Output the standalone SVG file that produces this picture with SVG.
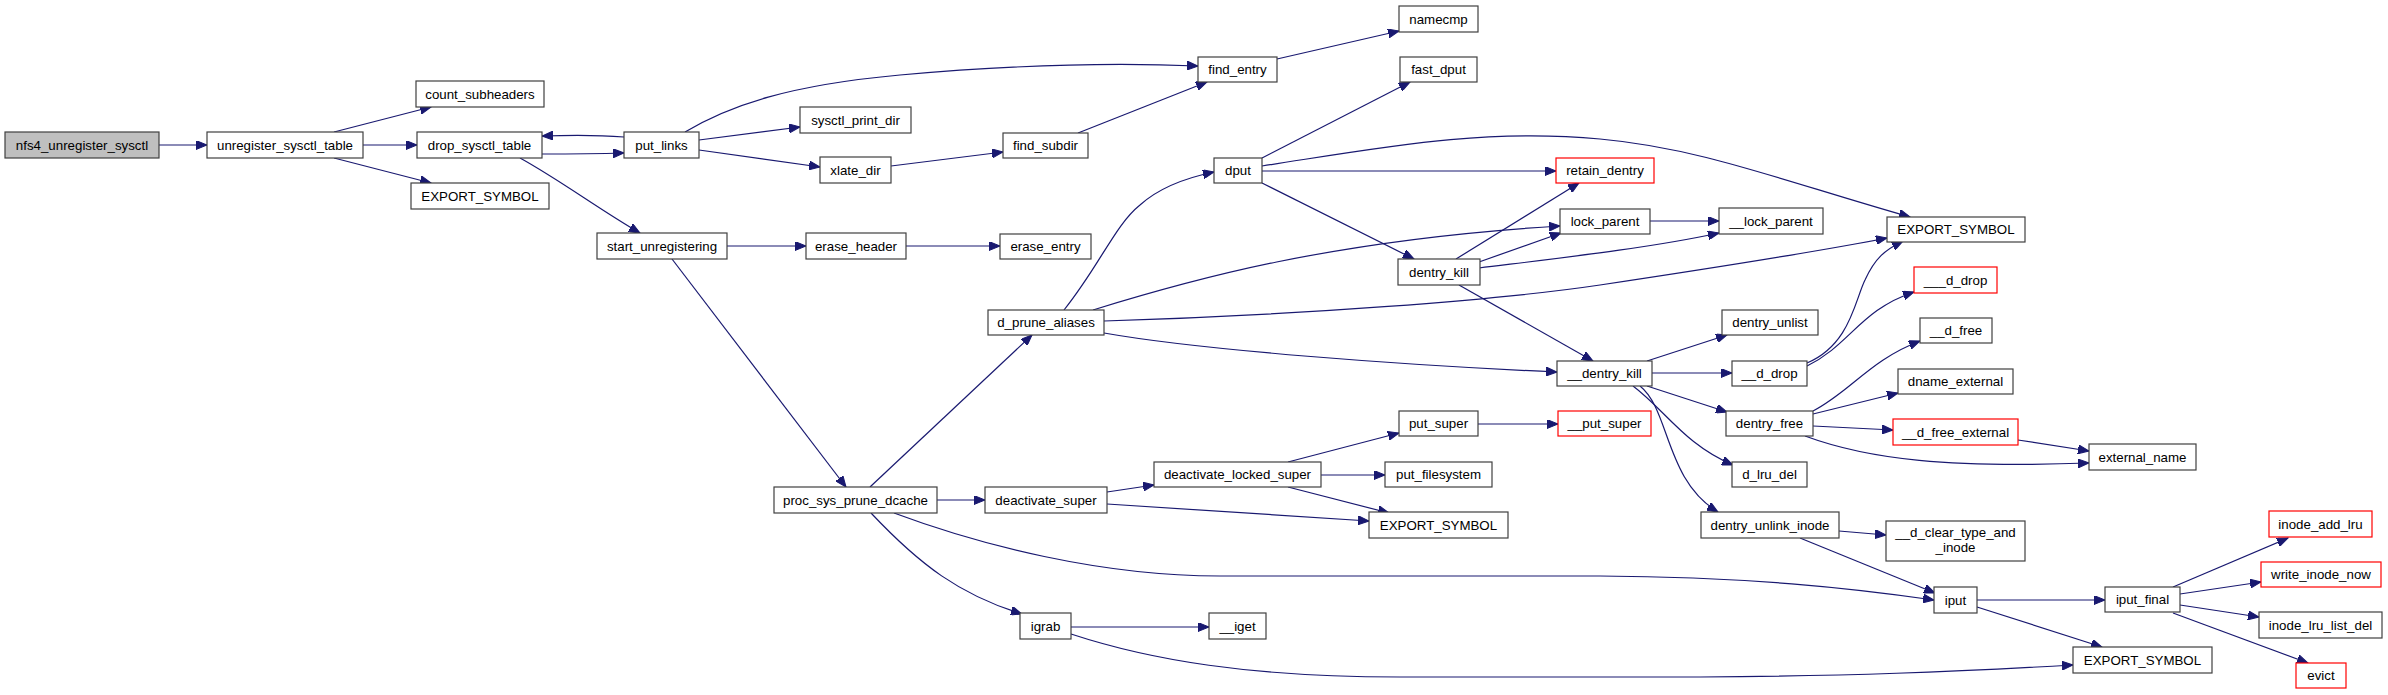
<svg xmlns="http://www.w3.org/2000/svg" width="2388" height="695" viewBox="0 0 2388 695">
<style>
.n rect{fill:#fff;stroke:#404040;stroke-width:1.2}
.n.root rect{fill:#bfbfbf}
.n.red rect{stroke:#ff0000}
.n text{font-family:"Liberation Sans",Arial,sans-serif;font-size:13.3px;fill:#000;text-anchor:middle}
#edges path{fill:none;stroke:#191970;stroke-width:1.2;marker-end:url(#ah)}
</style>
<defs>
<marker id="ah" markerUnits="userSpaceOnUse" markerWidth="12" markerHeight="9" refX="11" refY="4.5" orient="auto">
<path d="M0,0 L11,4.5 L0,9 z" fill="#191970" stroke="#191970" stroke-width="1"/>
</marker>
</defs>
<rect width="2388" height="695" fill="#fff"/>
<g id="edges">
<path d="M159,145 L207,145"/>
<path d="M334,132 L431,107"/>
<path d="M363,145 L417,145"/>
<path d="M334,158 L431,183"/>
<path d="M542,154 C570,154 590,154 624,153"/>
<path d="M624,137 C600,135 570,135 542,136"/>
<path d="M520,158 C560,180 600,210 640,233"/>
<path d="M685,132 C730,105 790,85 900,75 C1000,66 1100,62 1198,66"/>
<path d="M699,140 L800,127"/>
<path d="M699,150 L820,167"/>
<path d="M891,166 L1003,152"/>
<path d="M1078,133 L1207,82"/>
<path d="M1277,59 L1399,31"/>
<path d="M727,246 L806,246"/>
<path d="M906,246 L1000,246"/>
<path d="M672,259 L846,487"/>
<path d="M870,487 L1032,335"/>
<path d="M937,500 L985,500"/>
<path d="M894,513 C980,545 1100,576 1220,576 L1600,576 C1750,577 1850,588 1934,600"/>
<path d="M871,513 C920,565 960,595 1022,614"/>
<path d="M1064,310 C1100,265 1115,225 1140,205 C1160,187 1185,178 1214,172"/>
<path d="M1093,310 C1190,280 1330,240 1560,226"/>
<path d="M1104,321 C1300,315 1500,300 1600,285 C1700,270 1800,255 1887,238"/>
<path d="M1104,333 C1200,350 1400,365 1557,372"/>
<path d="M1262,158 L1410,82"/>
<path d="M1262,171 L1556,171"/>
<path d="M1262,166 C1380,148 1480,128 1600,139 C1700,148 1780,180 1910,217"/>
<path d="M1262,183 L1414,259"/>
<path d="M1456,259 L1579,183"/>
<path d="M1479,262 L1561,233"/>
<path d="M1479,268 C1560,258 1650,248 1719,233"/>
<path d="M1459,285 L1593,361"/>
<path d="M1650,221 L1719,221"/>
<path d="M1647,361 L1727,335"/>
<path d="M1652,373 L1732,373"/>
<path d="M1647,386 L1727,412"/>
<path d="M1633,386 C1665,410 1685,445 1733,465"/>
<path d="M1640,386 C1670,410 1665,480 1718,512"/>
<path d="M1807,363 C1850,345 1855,300 1865,280 C1875,258 1885,250 1903,241"/>
<path d="M1807,366 C1850,345 1860,310 1914,292"/>
<path d="M1813,411 C1850,392 1870,360 1920,341"/>
<path d="M1813,414 L1898,393"/>
<path d="M1813,426 L1893,430"/>
<path d="M1805,436 C1870,460 1950,468 2089,463"/>
<path d="M2018,440 L2089,451"/>
<path d="M1839,531 L1886,535"/>
<path d="M1800,538 L1935,593"/>
<path d="M1977,600 L2105,600"/>
<path d="M1977,607 L2102,647"/>
<path d="M2173,587 L2288,538"/>
<path d="M2180,594 L2261,582"/>
<path d="M2180,605 L2259,617"/>
<path d="M2173,613 L2308,663"/>
<path d="M1107,492 L1154,485"/>
<path d="M1107,504 L1369,521"/>
<path d="M1288,462 L1399,433"/>
<path d="M1321,475 L1385,475"/>
<path d="M1288,487 L1389,513"/>
<path d="M1478,424 L1558,424"/>
<path d="M1071,627 L1209,627"/>
<path d="M1071,634 C1150,660 1250,677 1400,677 L1700,677 C1850,676 1950,672 2073,665"/>
</g>
<g id="n_nfs4_unregister_sysctl" class="n root"><rect x="5" y="132" width="154" height="26"/><text x="82" y="149.5">nfs4_unregister_sysctl</text></g>
<g id="n_unregister_sysctl_table" class="n"><rect x="207" y="132" width="156" height="26"/><text x="285" y="149.5">unregister_sysctl_table</text></g>
<g id="n_count_subheaders" class="n"><rect x="416" y="81" width="128" height="26"/><text x="480" y="98.5">count_subheaders</text></g>
<g id="n_drop_sysctl_table" class="n"><rect x="417" y="132" width="125" height="26"/><text x="479.5" y="149.5">drop_sysctl_table</text></g>
<g id="n_export_symbol_1" class="n"><rect x="411" y="183" width="138" height="26"/><text x="480" y="200.5">EXPORT_SYMBOL</text></g>
<g id="n_put_links" class="n"><rect x="624" y="132" width="75" height="26"/><text x="661.5" y="149.5">put_links</text></g>
<g id="n_start_unregistering" class="n"><rect x="597" y="233" width="130" height="26"/><text x="662" y="250.5">start_unregistering</text></g>
<g id="n_sysctl_print_dir" class="n"><rect x="800" y="107" width="111" height="26"/><text x="855.5" y="124.5">sysctl_print_dir</text></g>
<g id="n_xlate_dir" class="n"><rect x="820" y="157" width="71" height="26"/><text x="855.5" y="174.5">xlate_dir</text></g>
<g id="n_find_subdir" class="n"><rect x="1003" y="133" width="85" height="25"/><text x="1045.5" y="150">find_subdir</text></g>
<g id="n_find_entry" class="n"><rect x="1198" y="57" width="79" height="25"/><text x="1237.5" y="74">find_entry</text></g>
<g id="n_namecmp" class="n"><rect x="1399" y="6" width="79" height="26"/><text x="1438.5" y="23.5">namecmp</text></g>
<g id="n_erase_header" class="n"><rect x="806" y="233" width="100" height="26"/><text x="856" y="250.5">erase_header</text></g>
<g id="n_erase_entry" class="n"><rect x="1000" y="234" width="91" height="25"/><text x="1045.5" y="251">erase_entry</text></g>
<g id="n_fast_dput" class="n"><rect x="1400" y="57" width="77" height="25"/><text x="1438.5" y="74">fast_dput</text></g>
<g id="n_dput" class="n"><rect x="1214" y="158" width="48" height="25"/><text x="1238" y="175">dput</text></g>
<g id="n_retain_dentry" class="n red"><rect x="1556" y="158" width="98" height="25"/><text x="1605" y="175">retain_dentry</text></g>
<g id="n_lock_parent" class="n"><rect x="1560" y="209" width="90" height="25"/><text x="1605" y="226">lock_parent</text></g>
<g id="n___lock_parent" class="n"><rect x="1719" y="208" width="104" height="26"/><text x="1771" y="225.5">__lock_parent</text></g>
<g id="n_export_symbol_2" class="n"><rect x="1887" y="217" width="138" height="25"/><text x="1956" y="234">EXPORT_SYMBOL</text></g>
<g id="n_dentry_kill" class="n"><rect x="1398" y="259" width="82" height="26"/><text x="1439" y="276.5">dentry_kill</text></g>
<g id="n_d_prune_aliases" class="n"><rect x="988" y="310" width="116" height="25"/><text x="1046" y="327">d_prune_aliases</text></g>
<g id="n____d_drop" class="n red"><rect x="1914" y="267" width="83" height="26"/><text x="1955.5" y="284.5">___d_drop</text></g>
<g id="n_dentry_unlist" class="n"><rect x="1722" y="310" width="96" height="25"/><text x="1770" y="327">dentry_unlist</text></g>
<g id="n___d_free" class="n"><rect x="1920" y="318" width="72" height="25"/><text x="1956" y="335">__d_free</text></g>
<g id="n___dentry_kill" class="n"><rect x="1557" y="361" width="95" height="25"/><text x="1604.5" y="378">__dentry_kill</text></g>
<g id="n___d_drop" class="n"><rect x="1732" y="361" width="75" height="25"/><text x="1769.5" y="378">__d_drop</text></g>
<g id="n_dname_external" class="n"><rect x="1898" y="369" width="115" height="25"/><text x="1955.5" y="386">dname_external</text></g>
<g id="n_dentry_free" class="n"><rect x="1726" y="411" width="87" height="25"/><text x="1769.5" y="428">dentry_free</text></g>
<g id="n___put_super" class="n red"><rect x="1558" y="411" width="93" height="25"/><text x="1604.5" y="428">__put_super</text></g>
<g id="n___d_free_external" class="n red"><rect x="1893" y="419" width="125" height="26"/><text x="1955.5" y="436.5">__d_free_external</text></g>
<g id="n_external_name" class="n"><rect x="2089" y="444" width="107" height="26"/><text x="2142.5" y="461.5">external_name</text></g>
<g id="n_d_lru_del" class="n"><rect x="1732" y="462" width="75" height="25"/><text x="1769.5" y="479">d_lru_del</text></g>
<g id="n_dentry_unlink_inode" class="n"><rect x="1701" y="512" width="138" height="26"/><text x="1770" y="529.5">dentry_unlink_inode</text></g>
<g id="n___d_clear_type_and_inode" class="n"><rect x="1886" y="521" width="139" height="40"/><text x="1955.5" y="537">__d_clear_type_and</text><text x="1955.5" y="552">_inode</text></g>
<g id="n_inode_add_lru" class="n red"><rect x="2269" y="511" width="103" height="26"/><text x="2320.5" y="528.5">inode_add_lru</text></g>
<g id="n_put_super" class="n"><rect x="1399" y="411" width="79" height="25"/><text x="1438.5" y="428">put_super</text></g>
<g id="n_deactivate_locked_super" class="n"><rect x="1154" y="462" width="167" height="25"/><text x="1237.5" y="479">deactivate_locked_super</text></g>
<g id="n_put_filesystem" class="n"><rect x="1385" y="462" width="107" height="25"/><text x="1438.5" y="479">put_filesystem</text></g>
<g id="n_export_symbol_3" class="n"><rect x="1369" y="512" width="139" height="26"/><text x="1438.5" y="529.5">EXPORT_SYMBOL</text></g>
<g id="n_proc_sys_prune_dcache" class="n"><rect x="774" y="487" width="163" height="26"/><text x="855.5" y="504.5">proc_sys_prune_dcache</text></g>
<g id="n_deactivate_super" class="n"><rect x="985" y="487" width="122" height="26"/><text x="1046" y="504.5">deactivate_super</text></g>
<g id="n_igrab" class="n"><rect x="1020" y="613" width="51" height="26"/><text x="1045.5" y="630.5">igrab</text></g>
<g id="n___iget" class="n"><rect x="1209" y="613" width="57" height="26"/><text x="1237.5" y="630.5">__iget</text></g>
<g id="n_iput" class="n"><rect x="1934" y="587" width="43" height="26"/><text x="1955.5" y="604.5">iput</text></g>
<g id="n_iput_final" class="n"><rect x="2105" y="587" width="75" height="25"/><text x="2142.5" y="604">iput_final</text></g>
<g id="n_write_inode_now" class="n red"><rect x="2261" y="562" width="120" height="25"/><text x="2321" y="579">write_inode_now</text></g>
<g id="n_inode_lru_list_del" class="n"><rect x="2259" y="612" width="123" height="26"/><text x="2320.5" y="629.5">inode_lru_list_del</text></g>
<g id="n_export_symbol_4" class="n"><rect x="2073" y="647" width="139" height="26"/><text x="2142.5" y="664.5">EXPORT_SYMBOL</text></g>
<g id="n_evict" class="n red"><rect x="2296" y="663" width="50" height="25"/><text x="2321" y="680">evict</text></g>
</svg>
